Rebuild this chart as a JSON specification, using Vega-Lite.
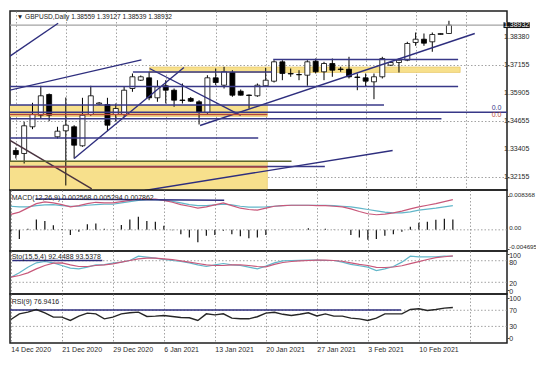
{
  "$schema": "https://vega.github.io/schema/vega-lite/v6.json",
  "background": "#ffffff",
  "padding": {"left": 7, "top": 10, "right": 0, "bottom": 0},
  "spacing": 0,
  "bounds": "flush",
  "config": {
    "view": {"stroke": "#1e1e1e", "strokeWidth": 1.5},
    "axis": {"labelFont": "Liberation Sans", "labelFontSize": 7, "labelColor": "#2a2a2a", "domain": false, "tickColor": "#444444", "tickSize": 2, "gridColor": "#8c8c8c", "gridDash": [1.5, 2], "gridWidth": 0.8, "labelPadding": 0.5},
    "concat": {"spacing": 0}
  },
  "datasets": {
    "bars": [
      {"i":0,"date":"2020-12-14","o":1.33336,"h":1.3347,"l":1.32979,"c":1.33157,"hist":-0.0004,"macd":0.00385,"sig":0.0059,"stk":34.3,"std":34.3,"rsi":47.1},
      {"i":1,"date":"2020-12-15","o":1.33202,"h":1.34617,"l":1.32755,"c":1.34438,"hist":-0.0023,"macd":0.00443,"sig":0.00574,"stk":46.3,"std":38.9,"rsi":61.2},
      {"i":2,"date":"2020-12-16","o":1.34394,"h":1.35465,"l":1.34287,"c":1.34943,"hist":0.0003,"macd":0.00549,"sig":0.00574,"stk":62,"std":46.3,"rsi":65.3},
      {"i":3,"date":"2020-12-17","o":1.34911,"h":1.36224,"l":1.34764,"c":1.35777,"hist":0.0026,"macd":0.00656,"sig":0.00607,"stk":74.1,"std":57.4,"rsi":72},
      {"i":4,"date":"2020-12-18","o":1.35836,"h":1.3588,"l":1.34644,"c":1.34911,"hist":0.0022,"macd":0.00697,"sig":0.00623,"stk":77.8,"std":66.7,"rsi":63.7},
      {"i":5,"date":"2020-12-20","o":1.33947,"h":1.34394,"l":1.33871,"c":1.34197,"hist":0.00115,"macd":0.00672,"sig":0.00631,"stk":74.1,"std":73.1,"rsi":52.9},
      {"i":6,"date":"2020-12-21","o":1.34215,"h":1.35702,"l":1.31773,"c":1.34465,"hist":0.0002,"macd":0.00631,"sig":0.00607,"stk":66.7,"std":74.1,"rsi":52.9},
      {"i":7,"date":"2020-12-22","o":1.34394,"h":1.34465,"l":1.32979,"c":1.33572,"hist":-0.0013,"macd":0.00574,"sig":0.0059,"stk":59.3,"std":68.5,"rsi":44.7},
      {"i":8,"date":"2020-12-23","o":1.33546,"h":1.35688,"l":1.33501,"c":1.34911,"hist":-0.0005,"macd":0.00607,"sig":0.0059,"stk":57.4,"std":63.9,"rsi":55.4},
      {"i":9,"date":"2020-12-24","o":1.34943,"h":1.36224,"l":1.34885,"c":1.35777,"hist":0.0014,"macd":0.00656,"sig":0.00615,"stk":62,"std":63.9,"rsi":62.9},
      {"i":10,"date":"2020-12-27","o":1.35411,"h":1.35501,"l":1.35367,"c":1.35456,"hist":0.0016,"macd":0.00689,"sig":0.00631,"stk":68.5,"std":66.7,"rsi":61.2},
      {"i":11,"date":"2020-12-28","o":1.35389,"h":1.35688,"l":1.34197,"c":1.34465,"hist":0.0003,"macd":0.00672,"sig":0.0064,"stk":69.4,"std":68.5,"rsi":48.8},
      {"i":12,"date":"2020-12-29","o":1.34943,"h":1.35434,"l":1.3463,"c":1.35211,"hist":0.0001,"macd":0.00672,"sig":0.0064,"stk":73.1,"std":71.3,"rsi":52.9},
      {"i":13,"date":"2020-12-30","o":1.34943,"h":1.36179,"l":1.3484,"c":1.36027,"hist":0.0012,"macd":0.00705,"sig":0.00672,"stk":75.9,"std":75.9,"rsi":61.2},
      {"i":14,"date":"2020-12-31","o":1.36103,"h":1.36773,"l":1.35956,"c":1.36626,"hist":0.0026,"macd":0.00738,"sig":0.00705,"stk":80.6,"std":80.6,"rsi":63.7},
      {"i":15,"date":"2021-01-03","o":1.36474,"h":1.36684,"l":1.36438,"c":1.36626,"hist":0.0033,"macd":0.00771,"sig":0.00738,"stk":92.6,"std":85.2,"rsi":65.3},
      {"i":16,"date":"2021-01-04","o":1.36581,"h":1.36849,"l":1.35581,"c":1.35688,"hist":0.0022,"macd":0.00771,"sig":0.00754,"stk":89.8,"std":87,"rsi":54.6},
      {"i":17,"date":"2021-01-05","o":1.35688,"h":1.36474,"l":1.3551,"c":1.36179,"hist":0.002,"macd":0.00771,"sig":0.00754,"stk":87,"std":87,"rsi":55.4},
      {"i":18,"date":"2021-01-06","o":1.36224,"h":1.36474,"l":1.35434,"c":1.36027,"hist":0.001,"macd":0.00738,"sig":0.00738,"stk":83.3,"std":85.2,"rsi":57.1},
      {"i":19,"date":"2021-01-07","o":1.36027,"h":1.36103,"l":1.35286,"c":1.35581,"hist":-0.0001,"macd":0.00689,"sig":0.00713,"stk":80.6,"std":83.3,"rsi":54.6},
      {"i":20,"date":"2021-01-08","o":1.3559,"h":1.36327,"l":1.35434,"c":1.35568,"hist":-0.0011,"macd":0.00631,"sig":0.00672,"stk":77.8,"std":79.6,"rsi":52.1},
      {"i":21,"date":"2021-01-10","o":1.35657,"h":1.35724,"l":1.35501,"c":1.35536,"hist":-0.0019,"macd":0.0059,"sig":0.00631,"stk":74.1,"std":75.9,"rsi":51.3},
      {"i":22,"date":"2021-01-11","o":1.3551,"h":1.35581,"l":1.34496,"c":1.35032,"hist":-0.0031,"macd":0.00541,"sig":0.00607,"stk":68.5,"std":72.2,"rsi":44.7},
      {"i":23,"date":"2021-01-12","o":1.35032,"h":1.36697,"l":1.34974,"c":1.36581,"hist":-0.0015,"macd":0.00574,"sig":0.00607,"stk":63.9,"std":68.5,"rsi":61.2},
      {"i":24,"date":"2021-01-13","o":1.36581,"h":1.36996,"l":1.36251,"c":1.36371,"hist":-0.0013,"macd":0.00623,"sig":0.00623,"stk":68.5,"std":66.7,"rsi":58.7},
      {"i":25,"date":"2021-01-14","o":1.36251,"h":1.37072,"l":1.36103,"c":1.36849,"hist":-0.0002,"macd":0.00672,"sig":0.0064,"stk":72.2,"std":66.7,"rsi":61.2},
      {"i":26,"date":"2021-01-15","o":1.36818,"h":1.3692,"l":1.35733,"c":1.35804,"hist":-0.0011,"macd":0.00607,"sig":0.00623,"stk":68.5,"std":68.5,"rsi":50.5},
      {"i":27,"date":"2021-01-17","o":1.35983,"h":1.36059,"l":1.35791,"c":1.35804,"hist":-0.0016,"macd":0.00541,"sig":0.0059,"stk":66.7,"std":68.5,"rsi":48.8},
      {"i":28,"date":"2021-01-18","o":1.35813,"h":1.35836,"l":1.35211,"c":1.35791,"hist":-0.0021,"macd":0.00508,"sig":0.00566,"stk":62,"std":66.7,"rsi":48.8},
      {"i":29,"date":"2021-01-19","o":1.35777,"h":1.36327,"l":1.35733,"c":1.36251,"hist":-0.0019,"macd":0.00492,"sig":0.00566,"stk":57.4,"std":63.9,"rsi":54},
      {"i":30,"date":"2021-01-20","o":1.36224,"h":1.37027,"l":1.36179,"c":1.36474,"hist":-0.0013,"macd":0.00541,"sig":0.00574,"stk":65,"std":63,"rsi":63},
      {"i":31,"date":"2021-01-21","o":1.36429,"h":1.37367,"l":1.36371,"c":1.37295,"hist":0.0001,"macd":0.0059,"sig":0.0059,"stk":74,"std":70,"rsi":65},
      {"i":32,"date":"2021-01-22","o":1.37295,"h":1.37367,"l":1.36474,"c":1.36773,"hist":0.0001,"macd":0.00607,"sig":0.00607,"stk":79.6,"std":75,"rsi":60},
      {"i":33,"date":"2021-01-24","o":1.36773,"h":1.36996,"l":1.36626,"c":1.36751,"hist":0.0001,"macd":0.00615,"sig":0.00615,"stk":80.6,"std":77.8,"rsi":57.1},
      {"i":34,"date":"2021-01-25","o":1.36728,"h":1.3692,"l":1.36474,"c":1.36715,"hist":0.0001,"macd":0.00615,"sig":0.00615,"stk":81,"std":79.5,"rsi":60},
      {"i":35,"date":"2021-01-26","o":1.36697,"h":1.37367,"l":1.36224,"c":1.37295,"hist":0.0004,"macd":0.00615,"sig":0.00615,"stk":81.5,"std":80.6,"rsi":63.7},
      {"i":36,"date":"2021-01-27","o":1.37322,"h":1.37443,"l":1.36773,"c":1.36849,"hist":0.0001,"macd":0.00607,"sig":0.00615,"stk":81.5,"std":81.5,"rsi":56},
      {"i":37,"date":"2021-01-28","o":1.36849,"h":1.37295,"l":1.36474,"c":1.37219,"hist":0.0003,"macd":0.00607,"sig":0.00615,"stk":80.6,"std":81.5,"rsi":61},
      {"i":38,"date":"2021-01-29","o":1.37219,"h":1.37443,"l":1.36626,"c":1.3692,"hist":0.0001,"macd":0.0059,"sig":0.00607,"stk":80.6,"std":80.6,"rsi":55.4},
      {"i":39,"date":"2021-01-31","o":1.36974,"h":1.37072,"l":1.36849,"c":1.36952,"hist":0.0001,"macd":0.00574,"sig":0.0059,"stk":76,"std":78.5,"rsi":55.4},
      {"i":40,"date":"2021-02-01","o":1.36965,"h":1.37518,"l":1.3655,"c":1.36626,"hist":-0.0013,"macd":0.00525,"sig":0.00574,"stk":70,"std":74,"rsi":50.5},
      {"i":41,"date":"2021-02-02","o":1.36617,"h":1.36773,"l":1.36027,"c":1.36594,"hist":-0.0019,"macd":0.00459,"sig":0.00541,"stk":66,"std":70,"rsi":48.8},
      {"i":42,"date":"2021-02-03","o":1.36581,"h":1.36773,"l":1.36179,"c":1.36429,"hist":-0.0025,"macd":0.00402,"sig":0.00508,"stk":62,"std":66.7,"rsi":44.7},
      {"i":43,"date":"2021-02-04","o":1.36402,"h":1.36773,"l":1.35626,"c":1.36626,"hist":-0.0023,"macd":0.00377,"sig":0.00476,"stk":52.8,"std":61.5,"rsi":50.5},
      {"i":44,"date":"2021-02-05","o":1.36626,"h":1.37518,"l":1.3655,"c":1.37443,"hist":-0.0015,"macd":0.00394,"sig":0.00443,"stk":57.4,"std":61.1,"rsi":61.2},
      {"i":45,"date":"2021-02-07","o":1.37143,"h":1.37331,"l":1.37117,"c":1.37264,"hist":-0.0011,"macd":0.00426,"sig":0.00426,"stk":64,"std":62.5,"rsi":61.2},
      {"i":46,"date":"2021-02-08","o":1.37264,"h":1.37443,"l":1.36818,"c":1.37367,"hist":-0.0005,"macd":0.00467,"sig":0.00426,"stk":76,"std":66,"rsi":61.2},
      {"i":47,"date":"2021-02-09","o":1.37367,"h":1.38188,"l":1.37322,"c":1.38112,"hist":0.0008,"macd":0.00525,"sig":0.00451,"stk":92.6,"std":72,"rsi":72},
      {"i":48,"date":"2021-02-10","o":1.38157,"h":1.38603,"l":1.38009,"c":1.38304,"hist":0.0018,"macd":0.00574,"sig":0.00492,"stk":90.7,"std":77.5,"rsi":73.6},
      {"i":49,"date":"2021-02-11","o":1.38304,"h":1.38559,"l":1.38009,"c":1.38126,"hist":0.002,"macd":0.00615,"sig":0.00517,"stk":90.7,"std":83.3,"rsi":69.5},
      {"i":50,"date":"2021-02-12","o":1.38188,"h":1.38603,"l":1.37742,"c":1.38514,"hist":0.0025,"macd":0.00656,"sig":0.00541,"stk":91,"std":88.5,"rsi":72},
      {"i":51,"date":"2021-02-14","o":1.38514,"h":1.38581,"l":1.385,"c":1.38559,"hist":0.0028,"macd":0.00705,"sig":0.00574,"stk":92.6,"std":91,"rsi":75.3},
      {"i":52,"date":"2021-02-15","o":1.38559,"h":1.39127,"l":1.38539,"c":1.38932,"hist":0.002568,"macd":0.00754,"sig":0.00607,"stk":92.45,"std":93.54,"rsi":76.94}
    ],
    "bands": [
      {"i":-1,"i2":30.2,"p1":1.35344,"p2":1.34853},
      {"i":16.06,"i2":53.35,"p1":1.37063,"p2":1.36818},
      {"i":-1,"i2":30.2,"p1":1.32858,"p2":1.31}
    ],
    "lines": [
      {"i":-1,"i2":60,"p1":1.38932,"p2":1.38932,"kind":"bid"},
      {"i":-1,"i2":5.08,"p1":1.37475,"p2":1.39018,"kind":"trend"},
      {"i":-1,"i2":15.08,"p1":1.36006,"p2":1.37384,"kind":"trend"},
      {"i":16.06,"i2":27.0,"p1":1.36996,"p2":1.34898,"kind":"trend"},
      {"i":7.0,"i2":20.18,"p1":1.32979,"p2":1.37041,"kind":"trend"},
      {"i":22.12,"i2":55.1,"p1":1.34451,"p2":1.38559,"kind":"trend"},
      {"i":-1,"i2":9.12,"p1":1.33854,"p2":1.31626,"kind":"dark"},
      {"i":15.47,"i2":45.24,"p1":1.3155,"p2":1.33335,"kind":"trend"},
      {"i":-1,"i2":53.1,"p1":1.36193,"p2":1.36193,"kind":"level"},
      {"i":-1,"i2":44.2,"p1":1.35367,"p2":1.35367,"kind":"level"},
      {"i":-1,"i2":60,"p1":1.35045,"p2":1.35045,"kind":"level"},
      {"i":-1,"i2":51.1,"p1":1.3475,"p2":1.3475,"kind":"level"},
      {"i":-1,"i2":29.1,"p1":1.33893,"p2":1.33893,"kind":"level"},
      {"i":-1,"i2":37.1,"p1":1.32621,"p2":1.32621,"kind":"level"},
      {"i":30.9,"i2":53.1,"p1":1.37398,"p2":1.37398,"kind":"level"},
      {"i":14.06,"i2":30.76,"p1":1.3684,"p2":1.3684,"kind":"level"},
      {"i":-1,"i2":30.2,"p1":1.34942,"p2":1.34942,"kind":"pivot"},
      {"i":-1,"i2":30.2,"p1":1.32598,"p2":1.32598,"kind":"pivot"},
      {"i":-1,"i2":33.1,"p1":1.32858,"p2":1.32858,"kind":"zone"}
    ],
    "fib": [
      {"i":58.3,"p":1.35241,"label":"0.0","kind":"level"},
      {"i":58.3,"p":1.34929,"label":"0.0","kind":"pivot"}
    ],
    "tag": [
      {"i":58.55,"i2":61.7,"p1":1.39062,"p2":1.38802,"price":1.38932,"im":60.12,"label":"1.38932"}
    ],
    "title": [
      {"i":0.1,"p":1.39286,"label":"▼ GBPUSD,Daily 1.38559 1.39127 1.38539 1.38932"}
    ],
    "yticks": [
      {"panel":"main","i":58.62,"v":1.32155,"label":"1.32155"},
      {"panel":"main","i":58.62,"v":1.33405,"label":"1.33405"},
      {"panel":"main","i":58.62,"v":1.34655,"label":"1.34655"},
      {"panel":"main","i":58.62,"v":1.35905,"label":"1.35905"},
      {"panel":"main","i":58.62,"v":1.37155,"label":"1.37155"},
      {"panel":"main","i":58.62,"v":1.3838,"label":"1.38380"},
      {"panel":"macd","i":58.62,"v":0.008368,"label":"0.008368"},
      {"panel":"macd","i":58.62,"v":0,"label":"0.00"},
      {"panel":"macd","i":58.62,"v":-0.004695,"label":"-0.004695"},
      {"panel":"sto","i":58.62,"v":100,"label":"100"},
      {"panel":"sto","i":58.62,"v":80,"label":"80"},
      {"panel":"sto","i":58.62,"v":20,"label":"20"},
      {"panel":"sto","i":58.62,"v":0,"label":"0"},
      {"panel":"rsi","i":58.62,"v":100,"label":"100"},
      {"panel":"rsi","i":58.62,"v":70,"label":"70"},
      {"panel":"rsi","i":58.62,"v":30,"label":"30"},
      {"panel":"rsi","i":58.62,"v":0,"label":"0"}
    ],
    "levels": [
      {"panel":"macd","v":0},
      {"panel":"sto","v":20},
      {"panel":"sto","v":80},
      {"panel":"rsi","v":30},
      {"panel":"rsi","v":70}
    ],
    "segs": [
      {"panel":"macd","i":2.9,"i2":25.1,"v1":0.0077,"v2":0.0074},
      {"panel":"sto","i":0.18,"i2":10.76,"v1":80.6,"v2":80.6},
      {"panel":"rsi","i":-0.1,"i2":45.9,"v1":70.5,"v2":70.5}
    ],
    "labels": [
      {"panel":"macd","i":0.1,"v":0.008,"label":"MACD(12,26,9) 0.002568 0.005294 0.007862"},
      {"panel":"sto","i":0.1,"v":89.7,"label":"Sto(15,5,4) 92.4488 93.5378"},
      {"panel":"rsi","i":0.1,"v":90,"label":"RSI(9) 76.9416"}
    ]
  },
  "vconcat": [
    {
      "width": 497, "height": 179,
      "layer": [
        {
          "data": {"name": "bands"},
          "mark": {"type": "rect", "color": "#f7e08c", "stroke": "#e6c45e", "strokeWidth": 0.6, "clip": true},
          "encoding": {
            "x": {"field": "i", "type": "quantitative", "scale": {"domain": [-0.1, 58.37], "nice": false, "zero": false}, "title": null,
                  "axis": {"values": [0,3,6,9,12,15,18,21,24,27,30,33,36,39,42,45,48,51,54,57], "labels": false, "ticks": false, "grid": true, "title": null}},
            "x2": {"field": "i2"},
            "y": {"field": "p1", "type": "quantitative", "scale": {"domain": [1.31572, 1.39563], "nice": false, "zero": false}, "title": null,
                  "axis": {"orient": "right", "values": [1.32155, 1.33405, 1.34655, 1.35905, 1.37155, 1.3838], "labels": false, "grid": true, "title": null}},
            "y2": {"field": "p2"}
          }
        },
        {
          "data": {"name": "bars"},
          "mark": {"type": "rule", "color": "#000000", "strokeWidth": 1, "clip": true},
          "encoding": {
            "x": {"field": "i", "type": "quantitative", "title": null},
            "y": {"field": "l", "type": "quantitative", "title": null},
            "y2": {"field": "h"}
          }
        },
        {
          "data": {"name": "bars"},
          "mark": {"type": "bar", "width": 5, "stroke": "#000000", "strokeWidth": 0.8, "clip": true},
          "encoding": {
            "x": {"field": "i", "type": "quantitative", "title": null},
            "y": {"field": "o", "type": "quantitative", "title": null},
            "y2": {"field": "c"},
            "fill": {"condition": {"test": "datum.c >= datum.o", "value": "#ffffff"}, "value": "#000000"}
          }
        },
        {
          "data": {"name": "lines"},
          "mark": {"type": "rule", "strokeWidth": 1.4, "clip": true},
          "encoding": {
            "x": {"field": "i", "type": "quantitative", "title": null},
            "x2": {"field": "i2"},
            "y": {"field": "p1", "type": "quantitative", "title": null},
            "y2": {"field": "p2"},
            "color": {"field": "kind", "type": "nominal", "legend": null,
                      "scale": {"domain": ["trend", "level", "pivot", "zone", "dark", "bid"], "range": ["#2e2e7e", "#383888", "#b5453a", "#5a6430", "#4a3440", "#a3a3a3"]}}
          }
        },
        {
          "data": {"name": "fib"},
          "mark": {"type": "text", "align": "right", "baseline": "middle", "font": "Liberation Sans", "fontSize": 7},
          "encoding": {
            "x": {"field": "i", "type": "quantitative", "title": null},
            "y": {"field": "p", "type": "quantitative", "title": null},
            "text": {"field": "label"},
            "color": {"field": "kind", "type": "nominal", "legend": null,
                      "scale": {"domain": ["trend", "level", "pivot", "zone", "dark", "bid"], "range": ["#2e2e7e", "#383888", "#b5453a", "#5a6430", "#4a3440", "#a3a3a3"]}}
          }
        },
        {
          "data": {"name": "title"},
          "mark": {"type": "text", "align": "left", "baseline": "middle", "font": "Liberation Sans", "fontSize": 6.6, "color": "#222222"},
          "encoding": {
            "x": {"field": "i", "type": "quantitative", "title": null},
            "y": {"field": "p", "type": "quantitative", "title": null},
            "text": {"field": "label"}
          }
        },
        {
          "data": {"name": "yticks"},
          "transform": [{"filter": "datum.panel == 'main'"}],
          "mark": {"type": "text", "align": "left", "baseline": "middle", "font": "Liberation Sans", "fontSize": 7, "color": "#2a2a2a"},
          "encoding": {
            "x": {"field": "i", "type": "quantitative", "title": null},
            "y": {"field": "v", "type": "quantitative", "title": null},
            "text": {"field": "label"}
          }
        },
        {
          "data": {"name": "tag"},
          "mark": {"type": "rect", "color": "#151515"},
          "encoding": {
            "x": {"field": "i", "type": "quantitative", "title": null},
            "x2": {"field": "i2"},
            "y": {"field": "p1", "type": "quantitative", "title": null},
            "y2": {"field": "p2"}
          }
        },
        {
          "data": {"name": "tag"},
          "mark": {"type": "text", "align": "center", "baseline": "middle", "font": "Liberation Sans", "fontSize": 7, "color": "#ffffff"},
          "encoding": {
            "x": {"field": "im", "type": "quantitative", "title": null},
            "y": {"field": "price", "type": "quantitative", "title": null},
            "text": {"field": "label"}
          }
        }
      ]
    },
    {
      "width": 497, "height": 61,
      "layer": [
        {
          "data": {"name": "bars"},
          "mark": {"type": "rule", "color": "#111111", "strokeWidth": 1.2},
          "encoding": {
            "x": {"field": "i", "type": "quantitative", "scale": {"domain": [-0.1, 58.37], "nice": false, "zero": false}, "title": null,
                  "axis": {"values": [0,3,6,9,12,15,18,21,24,27,30,33,36,39,42,45,48,51,54,57], "labels": false, "ticks": false, "grid": true, "title": null}},
            "y": {"field": "hist", "type": "quantitative", "scale": {"domain": [-0.00529, 0.00996], "nice": false, "zero": false}, "title": null,
                  "axis": {"orient": "right", "values": [-0.004695, 0, 0.008368], "labels": false, "grid": false, "title": null}},
            "y2": {"datum": 0}
          }
        },
        {
          "data": {"name": "levels"},
          "transform": [{"filter": "datum.panel == 'macd'"}],
          "mark": {"type": "rule", "color": "#8c8c8c", "strokeDash": [1.5, 2], "strokeWidth": 0.8},
          "encoding": {"y": {"field": "v", "type": "quantitative", "title": null}}
        },
        {
          "data": {"name": "bars"},
          "mark": {"type": "line", "color": "#62b6c9", "strokeWidth": 1.2},
          "encoding": {
            "x": {"field": "i", "type": "quantitative", "title": null},
            "y": {"field": "sig", "type": "quantitative", "title": null}
          }
        },
        {
          "data": {"name": "bars"},
          "mark": {"type": "line", "color": "#c8587a", "strokeWidth": 1.2},
          "encoding": {
            "x": {"field": "i", "type": "quantitative", "title": null},
            "y": {"field": "macd", "type": "quantitative", "title": null}
          }
        },
        {
          "data": {"name": "segs"},
          "transform": [{"filter": "datum.panel == 'macd'"}],
          "mark": {"type": "rule", "color": "#2e2e7e", "strokeWidth": 1.5},
          "encoding": {
            "x": {"field": "i", "type": "quantitative", "title": null},
            "x2": {"field": "i2"},
            "y": {"field": "v1", "type": "quantitative", "title": null},
            "y2": {"field": "v2"}
          }
        },
        {
          "data": {"name": "labels"},
          "transform": [{"filter": "datum.panel == 'macd'"}],
          "mark": {"type": "text", "align": "left", "baseline": "middle", "font": "Liberation Sans", "fontSize": 7, "color": "#222222"},
          "encoding": {
            "x": {"field": "i", "type": "quantitative", "title": null},
            "y": {"field": "v", "type": "quantitative", "title": null},
            "text": {"field": "label"}
          }
        },
        {
          "data": {"name": "yticks"},
          "transform": [{"filter": "datum.panel == 'macd'"}],
          "mark": {"type": "text", "align": "left", "baseline": "middle", "dy": -1.5, "font": "Liberation Sans", "fontSize": 6.2, "color": "#2a2a2a"},
          "encoding": {
            "x": {"field": "i", "type": "quantitative", "title": null},
            "y": {"field": "v", "type": "quantitative", "title": null},
            "text": {"field": "label"}
          }
        }
      ]
    },
    {
      "width": 497, "height": 43,
      "layer": [
        {
          "data": {"name": "levels"},
          "transform": [{"filter": "datum.panel == 'sto'"}],
          "mark": {"type": "rule", "color": "#8c8c8c", "strokeDash": [1.5, 2], "strokeWidth": 0.8},
          "encoding": {
            "y": {"field": "v", "type": "quantitative", "scale": {"domain": [-12.5, 107], "nice": false, "zero": false}, "title": null,
                  "axis": {"orient": "right", "values": [0, 20, 80, 100], "labels": false, "grid": false, "title": null}}
          }
        },
        {
          "data": {"name": "bars"},
          "mark": {"type": "line", "color": "#62b6c9", "strokeWidth": 1.2},
          "encoding": {
            "x": {"field": "i", "type": "quantitative", "scale": {"domain": [-0.1, 58.37], "nice": false, "zero": false}, "title": null,
                  "axis": {"values": [0,3,6,9,12,15,18,21,24,27,30,33,36,39,42,45,48,51,54,57], "labels": false, "ticks": false, "grid": true, "title": null}},
            "y": {"field": "stk", "type": "quantitative", "title": null}
          }
        },
        {
          "data": {"name": "bars"},
          "mark": {"type": "line", "color": "#c8587a", "strokeWidth": 1.2},
          "encoding": {
            "x": {"field": "i", "type": "quantitative", "title": null},
            "y": {"field": "std", "type": "quantitative", "title": null}
          }
        },
        {
          "data": {"name": "segs"},
          "transform": [{"filter": "datum.panel == 'sto'"}],
          "mark": {"type": "rule", "color": "#2e2e7e", "strokeWidth": 1.5},
          "encoding": {
            "x": {"field": "i", "type": "quantitative", "title": null},
            "x2": {"field": "i2"},
            "y": {"field": "v1", "type": "quantitative", "title": null},
            "y2": {"field": "v2"}
          }
        },
        {
          "data": {"name": "labels"},
          "transform": [{"filter": "datum.panel == 'sto'"}],
          "mark": {"type": "text", "align": "left", "baseline": "middle", "font": "Liberation Sans", "fontSize": 7, "color": "#222222"},
          "encoding": {
            "x": {"field": "i", "type": "quantitative", "title": null},
            "y": {"field": "v", "type": "quantitative", "title": null},
            "text": {"field": "label"}
          }
        },
        {
          "data": {"name": "yticks"},
          "transform": [{"filter": "datum.panel == 'sto'"}],
          "mark": {"type": "text", "align": "left", "baseline": "middle", "dy": 2, "font": "Liberation Sans", "fontSize": 7, "color": "#2a2a2a"},
          "encoding": {
            "x": {"field": "i", "type": "quantitative", "title": null},
            "y": {"field": "v", "type": "quantitative", "title": null},
            "text": {"field": "label"}
          }
        }
      ]
    },
    {
      "width": 497, "height": 49,
      "layer": [
        {
          "data": {"name": "levels"},
          "transform": [{"filter": "datum.panel == 'rsi'"}],
          "mark": {"type": "rule", "color": "#8c8c8c", "strokeDash": [1.5, 2], "strokeWidth": 0.8},
          "encoding": {
            "y": {"field": "v", "type": "quantitative", "scale": {"domain": [-11.2, 110.4], "nice": false, "zero": false}, "title": null,
                  "axis": {"orient": "right", "values": [0, 30, 70, 100], "labels": false, "grid": false, "title": null}}
          }
        },
        {
          "data": {"name": "segs"},
          "transform": [{"filter": "datum.panel == 'rsi'"}],
          "mark": {"type": "rule", "color": "#2e2e7e", "strokeWidth": 1.5, "clip": true},
          "encoding": {
            "x": {"field": "i", "type": "quantitative", "scale": {"domain": [-0.1, 58.37], "nice": false, "zero": false}, "title": null,
                  "axis": {"values": [0,3,6,9,12,15,18,21,24,27,30,33,36,39,42,45,48,51,54,57], "labels": true, "ticks": false, "grid": true, "title": null, "labelOverlap": false,
                           "labelAlign": "left", "labelBaseline": "top", "labelPadding": 2, "labelFlush": false,
                           "labelExpr": "datum.value == 0 ? '14 Dec 2020' : datum.value == 6 ? '21 Dec 2020' : datum.value == 12 ? '29 Dec 2020' : datum.value == 18 ? '6 Jan 2021' : datum.value == 24 ? '13 Jan 2021' : datum.value == 30 ? '20 Jan 2021' : datum.value == 36 ? '27 Jan 2021' : datum.value == 42 ? '3 Feb 2021' : datum.value == 48 ? '10 Feb 2021' : ''"}},
            "x2": {"field": "i2"},
            "y": {"field": "v1", "type": "quantitative", "title": null},
            "y2": {"field": "v2"}
          }
        },
        {
          "data": {"name": "bars"},
          "mark": {"type": "line", "color": "#262626", "strokeWidth": 1.4},
          "encoding": {
            "x": {"field": "i", "type": "quantitative", "title": null},
            "y": {"field": "rsi", "type": "quantitative", "title": null}
          }
        },
        {
          "data": {"name": "labels"},
          "transform": [{"filter": "datum.panel == 'rsi'"}],
          "mark": {"type": "text", "align": "left", "baseline": "middle", "font": "Liberation Sans", "fontSize": 7, "color": "#222222"},
          "encoding": {
            "x": {"field": "i", "type": "quantitative", "title": null},
            "y": {"field": "v", "type": "quantitative", "title": null},
            "text": {"field": "label"}
          }
        },
        {
          "data": {"name": "yticks"},
          "transform": [{"filter": "datum.panel == 'rsi'"}],
          "mark": {"type": "text", "align": "left", "baseline": "middle", "dy": 1, "font": "Liberation Sans", "fontSize": 7, "color": "#2a2a2a"},
          "encoding": {
            "x": {"field": "i", "type": "quantitative", "title": null},
            "y": {"field": "v", "type": "quantitative", "title": null},
            "text": {"field": "label"}
          }
        }
      ]
    }
  ]
}
